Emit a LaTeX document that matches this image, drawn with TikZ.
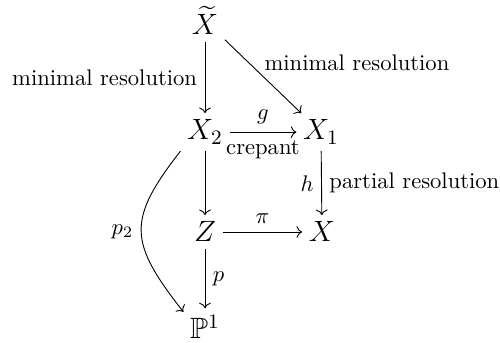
\RequirePackage{fix-cm}
\documentclass[tikz,border=0pt]{standalone}
\usepackage{amssymb}
\usetikzlibrary{cd}
\begin{document}
\begin{tikzpicture}[x=0.4425pt,y=-0.4425pt,
  obj/.style={font=\fontsize{13}{15}\selectfont, inner sep=2.8pt, anchor=base},
  arr/.style={-cm to, line width=0.4pt},
  lab/.style={font=\normalsize}]
\useasboundingbox (0,0) rectangle (500,343);
\node[obj] (Xt) at (205,35) {$\widetilde{X}$};
\node[obj] (X2) at (205,140) {$X_2$};
\node[obj] (X1) at (321,140) {$X_1$};
\node[obj] (Z)  at (205,242) {$Z$};
\node[obj] (X)  at (322,242) {$X$};
\node[obj] (P1) at (205,339) {$\mathbb{P}^1$};

\draw[arr] (Xt) -- node[lab, left] {minimal resolution} (X2);
\draw[arr] (Xt) -- node[lab, pos=0.47, anchor=south west, inner sep=1.5pt] {minimal resolution} (X1);
\draw[arr] (X2) -- node[lab, above] {$g$} node[lab, below] {crepant} (X1);
\draw[arr] (X2) -- (Z);
\draw[arr] (X1) -- node[lab, left] {$h$} node[lab, right] {partial resolution} (X);
\draw[arr] (Z) -- node[lab, above] {$\pi$} (X);
\draw[arr] (Z) -- node[lab, right] {$p$} (P1);
\draw[arr] (X2.south west) to[out=232, in=128, looseness=1.4] node[lab, left, pos=0.5] {$p_2$} (P1.145);
\end{tikzpicture}
\end{document}
